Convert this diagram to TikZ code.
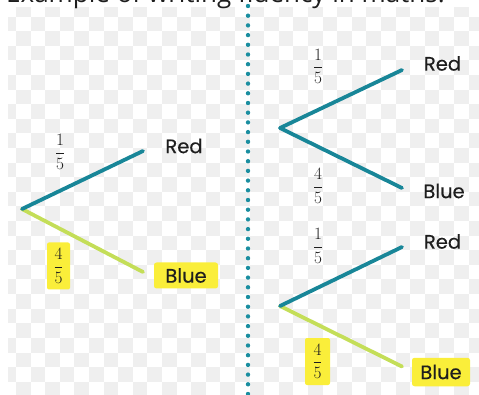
\documentclass[tikz,border=0pt]{standalone}
\usepackage{fontspec}
\setmainfont{Open Sans}
\newfontfamily\labelfont[FakeBold=0.3]{Poppins}
\usepackage{amsmath}
\definecolor{teal1}{RGB}{24,134,152}
\definecolor{lime1}{RGB}{196,222,88}
\definecolor{hl}{RGB}{250,238,58}
\definecolor{chk}{RGB}{239,239,239}
\definecolor{txt}{RGB}{30,30,30}
\definecolor{dotc}{RGB}{26,142,160}
\tikzset{
  x=1pt,y=-1pt,
  branch/.style={line width=3.8pt,line cap=round,draw=teal1},
  hbranch/.style={line width=3.8pt,line cap=round,draw=lime1},
  word/.style={font=\labelfont\fontsize{19.5}{22}\selectfont,text=txt,inner sep=0pt},
  hword/.style={word,fill=hl,rounded corners=2.5pt,minimum width=60pt,minimum height=27pt},
  frac/.style={font=\fontsize{18}{21}\selectfont,text=txt,inner sep=0pt},
  hfrac/.style={frac,fill=hl,rounded corners=2pt,minimum width=23pt,minimum height=47pt},
}
\begin{document}
\begin{tikzpicture}
\useasboundingbox (0,0) rectangle (479,395);
\clip (0,0) rectangle (479,395);
% checkerboard
\begin{scope}
\clip (8,8) rectangle (479,395);
\foreach \c in {-1,...,32}{
  \foreach \r in {-1,...,26}{
    \pgfmathtruncatemacro\s{\c+\r+4}
    \ifodd\s
      \fill[chk] ({16+14.6*\c},{16.7+14.6*\r}) rectangle ++(14.6,14.6);
    \fi
  }
}
\end{scope}
% title (cut off at top, as in the reference)
\node[anchor=base west,inner sep=0pt,font=\fontsize{26}{30}\selectfont,text=txt] (title) at (6,2.5) {Example of writing fluency in maths.};
% dotted divider
\coordinate (dtop) at (248,6);
\coordinate (dbot) at (248,398);
\draw[dotc,line width=4.4pt,line cap=round,dash pattern=on 0pt off 9.7pt] (dtop) -- (dbot);
% left tree
\coordinate (L0) at (22,209);
\coordinate (LR) at (143,151);
\coordinate (LB) at (143,272);
\draw[hbranch] (L0) -- (LB);
\draw[branch] (L0) -- (LR);
\node[word] (LRt) at (184,146) {Red};
\node[hword,minimum width=64pt,minimum height=26pt] (LBt) at (186,275.5) {Blue};
\node[frac] (Lf1) at (60,152) {$\dfrac{1}{5}$};
\node[hfrac] (Lf2) at (58.5,266) {$\dfrac{4}{5}$};
% right top tree
\coordinate (T0) at (280,128);
\coordinate (TR) at (402,70);
\coordinate (TB) at (402,188);
\draw[branch] (T0) -- (TR);
\draw[branch] (T0) -- (TB);
\node[word] (TRt) at (442.5,63.5) {Red};
\node[word] (TBt) at (444,191) {Blue};
\node[frac] (Tf1) at (318,66.5) {$\dfrac{1}{5}$};
\node[frac] (Tf2) at (318,186) {$\dfrac{4}{5}$};
% right bottom tree
\coordinate (B0) at (280,306);
\coordinate (BR) at (402,247);
\coordinate (BB) at (402,366.5);
\draw[hbranch] (B0) -- (BB);
\draw[branch] (B0) -- (BR);
\node[word] (BRt) at (442.5,241.5) {Red};
\node[hword,minimum width=58pt,minimum height=28.5pt] (BBt) at (441,372) {Blue};
\node[frac] (Bf1) at (318,246) {$\dfrac{1}{5}$};
\node[hfrac,minimum width=25pt] (Bf2) at (317.5,361.5) {$\dfrac{4}{5}$};
\end{tikzpicture}
\end{document}
